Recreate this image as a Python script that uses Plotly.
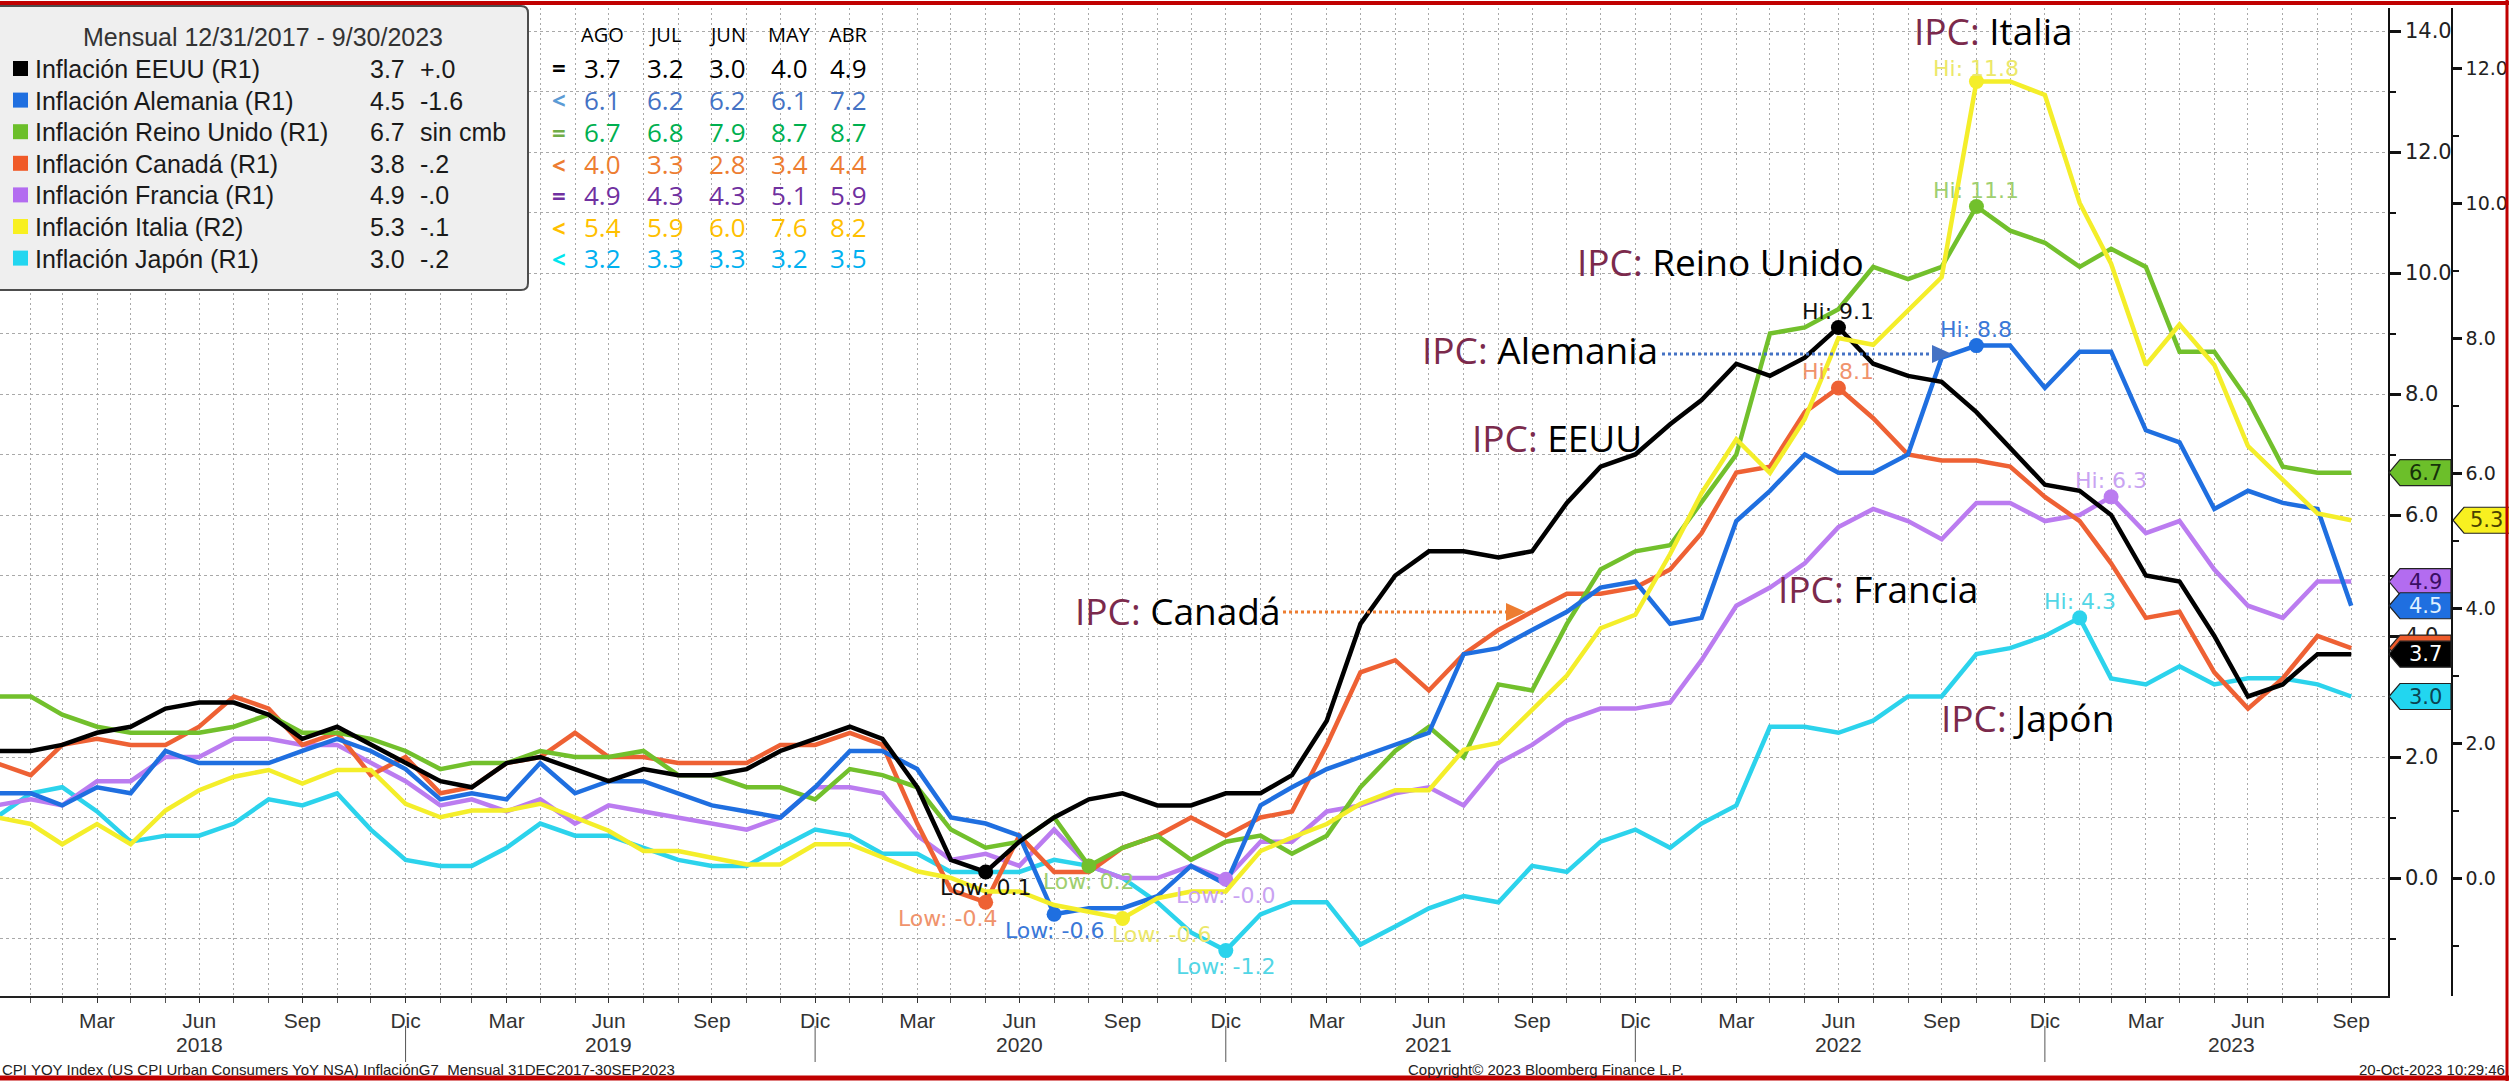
import calendar
import plotly.graph_objects as go

# ---------------- data ----------------
def month_ends(y0, m0, n):
    out, y, m = [], y0, m0
    for _ in range(n):
        out.append(f"{y:04d}-{m:02d}-{calendar.monthrange(y, m)[1]:02d}")
        m += 1
        if m > 12:
            m, y = 1, y + 1
    return out

fechas = month_ends(2017, 12, 70)   # Dec-2017 .. Sep-2023

eeuu = [2.1,
        2.1, 2.2, 2.4, 2.5, 2.8, 2.9, 2.9, 2.7, 2.3, 2.5, 2.2, 1.9,
        1.6, 1.5, 1.9, 2.0, 1.8, 1.6, 1.8, 1.7, 1.7, 1.8, 2.1, 2.3,
        2.5, 2.3, 1.5, 0.3, 0.1, 0.6, 1.0, 1.3, 1.4, 1.2, 1.2, 1.4,
        1.4, 1.7, 2.6, 4.2, 5.0, 5.4, 5.4, 5.3, 5.4, 6.2, 6.8, 7.0,
        7.5, 7.9, 8.5, 8.3, 8.6, 9.1, 8.5, 8.3, 8.2, 7.7, 7.1, 6.5,
        6.4, 6.0, 5.0, 4.9, 4.0, 3.0, 3.2, 3.7, 3.7]
alemania = [1.4,
            1.4, 1.2, 1.5, 1.4, 2.1, 1.9, 1.9, 1.9, 2.1, 2.3, 2.1, 1.8,
            1.3, 1.4, 1.3, 1.9, 1.4, 1.6, 1.6, 1.4, 1.2, 1.1, 1.0, 1.5,
            2.1, 2.1, 1.8, 1.0, 0.9, 0.7, -0.6, -0.5, -0.5, -0.3, 0.2, -0.1,
            1.2, 1.5, 1.8, 2.0, 2.2, 2.4, 3.7, 3.8, 4.1, 4.4, 4.8, 4.9,
            4.2, 4.3, 5.9, 6.4, 7.0, 6.7, 6.7, 7.0, 8.6, 8.8, 8.8, 8.1,
            8.7, 8.7, 7.4, 7.2, 6.1, 6.4, 6.2, 6.1, 4.5]
reino_unido = [3.0,
               3.0, 2.7, 2.5, 2.4, 2.4, 2.4, 2.5, 2.7, 2.4, 2.4, 2.3, 2.1,
               1.8, 1.9, 1.9, 2.1, 2.0, 2.0, 2.1, 1.7, 1.7, 1.5, 1.5, 1.3,
               1.8, 1.7, 1.5, 0.8, 0.5, 0.6, 1.0, 0.2, 0.5, 0.7, 0.3, 0.6,
               0.7, 0.4, 0.7, 1.5, 2.1, 2.5, 2.0, 3.2, 3.1, 4.2, 5.1, 5.4,
               5.5, 6.2, 7.0, 9.0, 9.1, 9.4, 10.1, 9.9, 10.1, 11.1, 10.7, 10.5,
               10.1, 10.4, 10.1, 8.7, 8.7, 7.9, 6.8, 6.7, 6.7]
canada = [1.9,
          1.7, 2.2, 2.3, 2.2, 2.2, 2.5, 3.0, 2.8, 2.2, 2.4, 1.7, 2.0,
          1.4, 1.5, 1.9, 2.0, 2.4, 2.0, 2.0, 1.9, 1.9, 1.9, 2.2, 2.2,
          2.4, 2.2, 0.9, -0.2, -0.4, 0.7, 0.1, 0.1, 0.5, 0.7, 1.0, 0.7,
          1.0, 1.1, 2.2, 3.4, 3.6, 3.1, 3.7, 4.1, 4.4, 4.7, 4.7, 4.8,
          5.1, 5.7, 6.7, 6.8, 7.7, 8.1, 7.6, 7.0, 6.9, 6.9, 6.8, 6.3,
          5.9, 5.2, 4.3, 4.4, 3.4, 2.8, 3.3, 4.0, 3.8]
francia = [1.2,
           1.3, 1.2, 1.6, 1.6, 2.0, 2.0, 2.3, 2.3, 2.2, 2.2, 1.9, 1.6,
           1.2, 1.3, 1.1, 1.3, 0.9, 1.2, 1.1, 1.0, 0.9, 0.8, 1.0, 1.5,
           1.5, 1.4, 0.7, 0.3, 0.4, 0.2, 0.8, 0.2, 0.0, 0.0, 0.2, -0.02,
           0.6, 0.6, 1.1, 1.2, 1.4, 1.5, 1.2, 1.9, 2.2, 2.6, 2.8, 2.8,
           2.9, 3.6, 4.5, 4.8, 5.2, 5.8, 6.1, 5.9, 5.6, 6.2, 6.2, 5.9,
           6.0, 6.3, 5.7, 5.9, 5.1, 4.5, 4.3, 4.9, 4.9]
italia = [0.9,
          0.8, 0.5, 0.8, 0.5, 1.0, 1.3, 1.5, 1.6, 1.4, 1.6, 1.6, 1.1,
          0.9, 1.0, 1.0, 1.1, 0.9, 0.7, 0.4, 0.4, 0.3, 0.2, 0.2, 0.5,
          0.5, 0.3, 0.1, 0.0, -0.2, -0.2, -0.4, -0.5, -0.6, -0.3, -0.2, -0.2,
          0.4, 0.6, 0.8, 1.1, 1.3, 1.3, 1.9, 2.0, 2.5, 3.0, 3.7, 3.9,
          4.8, 5.7, 6.5, 6.0, 6.8, 8.0, 7.9, 8.4, 8.9, 11.8, 11.8, 11.6,
          10.0, 9.1, 7.6, 8.2, 7.6, 6.4, 5.9, 5.4, 5.3]
japon = [1.0,
         1.4, 1.5, 1.1, 0.6, 0.7, 0.7, 0.9, 1.3, 1.2, 1.4, 0.8, 0.3,
         0.2, 0.2, 0.5, 0.9, 0.7, 0.7, 0.5, 0.3, 0.2, 0.2, 0.5, 0.8,
         0.7, 0.4, 0.4, 0.1, 0.1, 0.1, 0.3, 0.2, 0.0, -0.4, -0.9, -1.2,
         -0.6, -0.4, -0.4, -1.1, -0.8, -0.5, -0.3, -0.4, 0.2, 0.1, 0.6, 0.8,
         0.5, 0.9, 1.2, 2.5, 2.5, 2.4, 2.6, 3.0, 3.0, 3.7, 3.8, 4.0,
         4.3, 3.3, 3.2, 3.5, 3.2, 3.3, 3.3, 3.2, 3.0]

nombres = ["Inflación EEUU (R1)", "Inflación Alemania (R1)", "Inflación Reino Unido (R1)",
           "Inflación Canadá (R1)", "Inflación Francia (R1)", "Inflación Italia (R2)",
           "Inflación Japón (R1)"]
series = [eeuu, alemania, reino_unido, canada, francia, italia, japon]
ejes = ["y", "y", "y", "y", "y", "y2", "y"]
leg_ultimo = ["3.7", "4.5", "6.7", "3.8", "4.9", "5.3", "3.0"]
leg_cambio = ["+.0", "-1.6", "sin cmb", "-.2", "-.0", "-.1", "-.2"]

tabla_meses = ["AGO", "JUL", "JUN", "MAY", "ABR"]
tabla_simbolo = ["=", "<", "=", "<", "=", "<", "<"]
tabla_valores = [
    ["3.7", "3.2", "3.0", "4.0", "4.9"],
    ["6.1", "6.2", "6.2", "6.1", "7.2"],
    ["6.7", "6.8", "7.9", "8.7", "8.7"],
    ["4.0", "3.3", "2.8", "3.4", "4.4"],
    ["4.9", "4.3", "4.3", "5.1", "5.9"],
    ["5.4", "5.9", "6.0", "7.6", "8.2"],
    ["3.2", "3.3", "3.3", "3.2", "3.5"],
]

meses_tick = {3: "Mar", 6: "Jun", 9: "Sep", 12: "Dic"}
anios = [2018, 2019, 2020, 2021, 2022, 2023]

# ---------------- styles ----------------
W, H = 2509, 1081
def px(x):
    return x / W
def py(y):
    return 1 - y / H

line_colors = ["#000000", "#1f6fe0", "#72c02c", "#ee6134", "#bb7cf0", "#f4ee2a", "#2cd3ec"]
label_colors = ["#111111", "#3a78d8", "#9fcf70", "#f0936c", "#c9a3f2", "#ece86a", "#52d6e6"]
flag_fill = ["#000000", "#1f6fe0", "#6cbf2a", "#ee5a2a", "#b36cf0", "#f8f020", "#22d6f0"]
flag_text = ["#ffffff", "#dff0ff", "#17320a", "#ffffff", "#3a0e63", "#4a4200", "#0b4452"]
tab_sym_colors = ["#000000", "#5b9bd5", "#70ad47", "#ed7d31", "#7030a0", "#ffc000", "#00e5ee"]
tab_val_colors = ["#000000", "#4472c4", "#00b050", "#ed7d31", "#7030a0", "#ffc000", "#00b0f0"]
low_xshift = [0, 0, 0, -38, 0, 39, 0]
hi_yshift = [16, 16, 16, 16, 16, 13, 16]

BBG = "DejaVu Sans, Verdana, sans-serif"
ARL = "Liberation Sans, Arial, sans-serif"
XLS = "Open Sans, Noto Sans, sans-serif"
GRID = "#a9a9a9"

R1 = [(878 - 996) / 60.5, (878 - 8) / 60.5]
R2 = [(878 - 996) / 67.5, (878 - 8) / 67.5]

annotations = []
shapes = []

def ann(**kw):
    kw.setdefault("xanchor", "center")
    kw.setdefault("yanchor", "middle")
    kw.setdefault("showarrow", False)
    annotations.append(kw)

fig = go.Figure()

# lines (draw EEUU last so it sits on top)
for k in reversed(range(len(series))):
    fig.add_trace(go.Scatter(x=fechas, y=series[k], yaxis=ejes[k], mode="lines",
                             name=nombres[k], line=dict(color=line_colors[k], width=4.5),
                             showlegend=False, hoverinfo="x+y+name"))

# Hi / Low markers & labels
for k, s in enumerate(series):
    ihi = s.index(max(s))
    ilo = s.index(min(s))
    fig.add_trace(go.Scatter(x=[fechas[ihi], fechas[ilo]], y=[s[ihi], s[ilo]], yaxis=ejes[k],
                             mode="markers", marker=dict(color=line_colors[k], size=15),
                             showlegend=False, hoverinfo="skip"))
    ann(x=fechas[ihi], y=s[ihi], xref="x", yref=ejes[k], text=f"Hi: {s[ihi]:.1f}",
        yshift=hi_yshift[k], font=dict(family=BBG, size=22, color=label_colors[k]))
    ann(x=fechas[ilo], y=s[ilo], xref="x", yref=ejes[k], text=f"Low: {s[ilo]:.1f}", yshift=-16,
        xshift=low_xshift[k], font=dict(family=BBG, size=22, color=label_colors[k]))

# value flags on the right axes
flag_order = [2, 4, 1, 3, 0, 6, 5]
for k in flag_order:
    v = series[k][-1]
    if ejes[k] == "y":
        h = 13 / 60.5
        xt, xs, xe = px(2389), px(2400), px(2451)
    else:
        h = 13 / 67.5
        xt, xs, xe = px(2453), px(2464), px(2518)
    shapes.append(dict(type="path", xref="paper", yref=ejes[k], layer="above",
                       path=f"M {xt},{v} L {xs},{v + h} L {xe},{v + h} L {xe},{v - h} L {xs},{v - h} Z",
                       fillcolor=flag_fill[k], line=dict(color="#222222", width=1.2)))
    if k != 3:
        ann(x=(xs + min(xe, px(2509))) / 2, y=v, xref="paper", yref=ejes[k], text=leg_ultimo[k],
            font=dict(family=BBG, size=21, color=flag_text[k]))

# legend box
x0, x1, y0, y1, r = -6, 528, 6, 290, 7
shapes.append(dict(type="path", xref="paper", yref="paper", layer="above",
                   path=(f"M {px(x0)},{py(y0)} L {px(x1 - r)},{py(y0)} "
                         f"Q {px(x1)},{py(y0)} {px(x1)},{py(y0 + r)} L {px(x1)},{py(y1 - r)} "
                         f"Q {px(x1)},{py(y1)} {px(x1 - r)},{py(y1)} L {px(x0)},{py(y1)} Z"),
                   fillcolor="#efefef", line=dict(color="#4d4d4d", width=2)))
ann(x=px(263), y=py(37), xref="paper", yref="paper", text="Mensual 12/31/2017 - 9/30/2023",
    font=dict(family=ARL, size=25, color="#333333"))
row_y = [69 + 31.6 * i for i in range(7)]
for k in range(7):
    yy = row_y[k]
    shapes.append(dict(type="rect", xref="paper", yref="paper", layer="above",
                       x0=px(13), x1=px(28), y0=py(yy - 8), y1=py(yy + 7),
                       fillcolor=flag_fill[k] if k != 3 else "#f05a28", line=dict(width=0)))
    ann(x=px(33), y=py(yy), xref="paper", yref="paper", xanchor="left", text=nombres[k],
        font=dict(family=ARL, size=25, color="#1a1a1a"))
    ann(x=px(368), y=py(yy), xref="paper", yref="paper", xanchor="left", text=leg_ultimo[k],
        font=dict(family=ARL, size=25, color="#1a1a1a"))
    ann(x=px(418), y=py(yy), xref="paper", yref="paper", xanchor="left", text=leg_cambio[k],
        font=dict(family=ARL, size=25, color="#1a1a1a"))

# table
col_x = [602, 665, 728, 789, 848]
for j, m in enumerate(tabla_meses):
    ann(x=px(col_x[j]), y=py(35), xref="paper", yref="paper", text=m,
        font=dict(family=XLS, size=20, color="#000000"))
tab_y = [68, 100, 132, 164, 195, 227, 258]
for k in range(7):
    ann(x=px(559), y=py(tab_y[k]), xref="paper", yref="paper", text=f"<b>{tabla_simbolo[k]}</b>",
        font=dict(family=XLS, size=24, color=tab_sym_colors[k]))
    for j in range(5):
        ann(x=px(col_x[j]), y=py(tab_y[k]), xref="paper", yref="paper", text=tabla_valores[k][j],
            font=dict(family=XLS, size=26, color=tab_val_colors[k]))

# IPC labels
MAR = "#7b2a4c"
ipc = [("Italia", 1993, 31), ("Reino Unido", 1720, 262), ("Alemania", 1540, 349),
       ("EEUU", 1557, 438), ("Canadá", 1178, 610), ("Francia", 1878, 588), ("Japón", 2027, 717)]
for name, xx, yy in ipc:
    ann(x=px(xx), y=py(yy), xref="paper", yref="paper",
        text=f"<span style='color:{MAR}'>IPC:</span> {name}",
        font=dict(family=XLS, size=37, color="#000000"))

# dotted arrows
for (xa, xb, yy, col) in [(1283, 1506, 612, "#ed7d31"), (1662, 1932, 354, "#4472c4")]:
    shapes.append(dict(type="line", xref="paper", yref="paper", x0=px(xa), x1=px(xb),
                       y0=py(yy), y1=py(yy), line=dict(color=col, width=3, dash="dot")))
    shapes.append(dict(type="path", xref="paper", yref="paper",
                       path=f"M {px(xb)},{py(yy - 9)} L {px(xb + 20)},{py(yy)} L {px(xb)},{py(yy + 9)} Z",
                       fillcolor=col, line=dict(width=0)))

# x-axis ticks / years
tickvals, ticktext = [], []
for f in fechas:
    mth = int(f[5:7])
    if mth in meses_tick and f >= "2018-01-01":
        tickvals.append(f)
        ticktext.append(meses_tick[mth])
for a in anios:
    xa = f"{a}-06-30" if a < 2023 else "2023-06-15"
    ann(x=xa, y=py(1044), xref="x", yref="paper", text=str(a),
        font=dict(family=ARL, size=21, color="#333333"))
for a in anios[:-1]:
    shapes.append(dict(type="line", xref="x", yref="paper", x0=f"{a}-12-31", x1=f"{a}-12-31",
                       y0=py(1026), y1=py(1062), line=dict(color="#555555", width=1)))

# footer
ann(x=0, y=py(1069), xref="paper", yref="paper", xanchor="left",
    text="CPI YOY Index (US CPI Urban Consumers YoY NSA) InflaciónG7  Mensual 31DEC2017-30SEP2023",
    font=dict(family=ARL, size=15, color="#222222"))
ann(x=px(1546), y=py(1069), xref="paper", yref="paper",
    text="Copyright© 2023 Bloomberg Finance L.P.", font=dict(family=ARL, size=15, color="#222222"))
ann(x=px(2507), y=py(1069), xref="paper", yref="paper", xanchor="right",
    text="20-Oct-2023 10:29:46", font=dict(family=ARL, size=15, color="#222222"))

# red frame
for (xa, ya, xb, yb, w) in [(0, 3, W, 3, 4), (0, 1078, W, 1078, 5), (W - 2, 0, W - 2, H, 3)]:
    shapes.append(dict(type="line", xref="paper", yref="paper", layer="above",
                       x0=px(xa), y0=py(ya), x1=px(xb), y1=py(yb),
                       line=dict(color="#c00000", width=w)))

fig.update_layout(
    width=W, height=H, margin=dict(l=0, r=0, t=0, b=0, pad=0),
    paper_bgcolor="white", plot_bgcolor="white", showlegend=False,
    font=dict(family=ARL, color="#222222"),
    xaxis=dict(domain=[0, 2388 / W], type="date",
               range=["2018-01-03 13:00", "2023-11-01 19:00"],
               tickmode="array", tickvals=tickvals, ticktext=ticktext,
               ticks="outside", ticklen=5, tickwidth=1, tickcolor="#333333",
               tickfont=dict(family=ARL, size=21, color="#333333"),
               showline=True, linecolor="#222222", linewidth=1.5,
               showgrid=True, gridcolor=GRID, gridwidth=1, griddash="2px,3px",
               minor=dict(tickmode="array", tickvals=fechas, ticks="outside", ticklen=5,
                          tickcolor="#555555", showgrid=True, gridcolor=GRID, gridwidth=1,
                          griddash="2px,3px"),
               zeroline=False, automargin=False, fixedrange=True),
    yaxis=dict(domain=[1 - 996 / H, 1 - 8 / H], side="right", anchor="x", range=R1,
               tickmode="array", tickvals=list(range(0, 15, 2)),
               ticktext=[f"{v:.1f}" for v in range(0, 15, 2)],
               ticks="outside", ticklen=11, tickwidth=3, tickcolor="#111111",
               tickfont=dict(family=BBG, size=21, color="#222222"),
               showline=True, linecolor="#111111", linewidth=1.5,
               showgrid=True, gridcolor=GRID, gridwidth=1, griddash="3px,3px",
               minor=dict(tickmode="array", tickvals=list(range(-1, 15, 2)), ticks="outside",
                          ticklen=6, tickwidth=1.5, tickcolor="#111111", showgrid=True,
                          gridcolor=GRID, gridwidth=1, griddash="3px,3px"),
               zeroline=False, automargin=False, fixedrange=True),
    yaxis2=dict(overlaying="y", side="right", anchor="free", position=2452 / W, range=R2,
                tickmode="array", tickvals=list(range(0, 13, 2)),
                ticktext=[f"{v:.1f}" for v in range(0, 13, 2)],
                ticks="outside", ticklen=9, tickwidth=3, tickcolor="#111111",
                tickfont=dict(family=BBG, size=19, color="#222222"),
                showline=True, linecolor="#111111", linewidth=1.5, showgrid=False,
                minor=dict(tickmode="array", tickvals=list(range(-1, 13, 2)), ticks="outside",
                           ticklen=6, tickwidth=1.5, tickcolor="#111111", showgrid=False),
                zeroline=False, automargin=False, fixedrange=True),
    annotations=annotations, shapes=shapes,
)

fig.write_html("out.html", config={"displayModeBar": False},
               post_script="document.body.style.margin='0';document.body.style.overflow='hidden';")
